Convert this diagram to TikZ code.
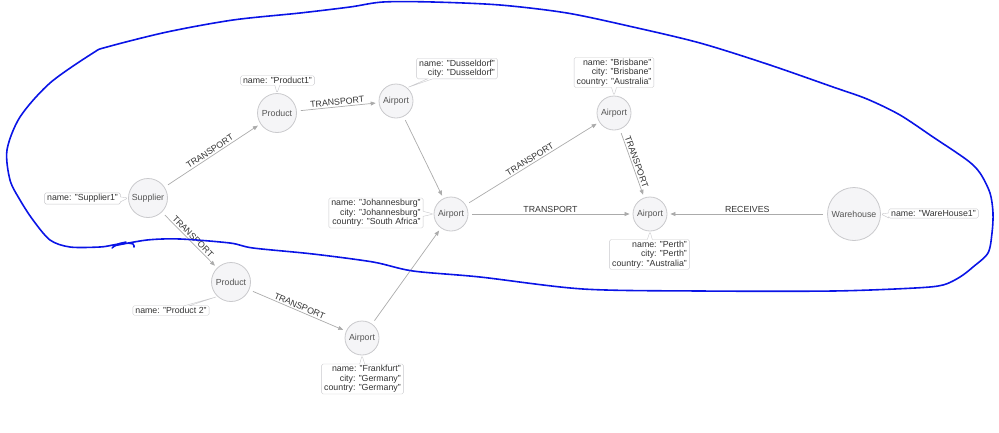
\documentclass[tikz,border=0pt]{standalone}
\usepackage{fontspec}
\setmainfont{Liberation Sans}
\usetikzlibrary{arrows.meta,shapes.callouts}
\definecolor{nodefill}{HTML}{F5F5F7}
\definecolor{nodeline}{HTML}{C9C9CC}
\definecolor{edgeline}{HTML}{ABABAB}
\definecolor{nodetext}{HTML}{555555}
\definecolor{labeltext}{HTML}{333333}
\definecolor{penblue}{HTML}{0A14E6}

\begin{document}
\begin{tikzpicture}[
    x=1pt, y=-1pt,
    entity/.style={
        circle,
        draw=nodeline,
        fill=nodefill,
        line width=0.8pt,
        inner sep=0pt,
        text=nodetext,
        font=\fontsize{8.8}{10}\selectfont
    },
    airport/.style={entity, minimum size=34pt},
    item/.style={entity, minimum size=39pt},
    props/.style={
        rectangle callout,
        draw=nodeline,
        fill=white,
        rounded corners=1.5pt,
        callout pointer width=5pt,
        align=right,
        inner xsep=2.5pt,
        inner ysep=1.5pt,
        text=labeltext,
        font=\fontsize{8.8}{9.4}\selectfont
    },
    rel/.style={
        draw=edgeline,
        line width=0.7pt,
        -{Triangle[length=5pt,width=4pt]},
        shorten <=4pt,
        shorten >=3pt
    },
    tag/.style={
        above,
        sloped,
        inner sep=1.5pt,
        text=labeltext,
        font=\fontsize{8.8}{10}\selectfont
    }
]
    \useasboundingbox (0,0) rectangle (999,432);

    \node[item] (sup) at (148,198) {Supplier};
    \node[item] (prodA) at (277,113) {Product};
    \node[airport] (dus) at (396,101) {Airport};
    \node[airport] (jnb) at (451,214) {Airport};
    \node[airport] (bne) at (614,113) {Airport};
    \node[airport] (per) at (650,214) {Airport};
    \node[entity, minimum size=53pt] (wh) at (854,214) {Warehouse};
    \node[item] (prodB) at (231,282) {Product};
    \node[airport] (fra) at (362,338) {Airport};

    \node[props, callout absolute pointer={(sup.west)}] (supinfo) at (82.5,198.5)
        {name: "Supplier1"};
    \node[props, callout absolute pointer={(prodA.north)}] (prodAinfo) at (277.5,80.5)
        {name: "Product1"};
    \node[props, callout absolute pointer={(dus.50)}] (dusinfo) at (457,68.5)
        {name: "Dusseldorf"\\city: "Dusseldorf"};
    \node[props, callout absolute pointer={(jnb.west)}] (jnbinfo) at (376,213)
        {name: "Johannesburg"\\city: "Johannesburg"\\country: "South Africa"};
    \node[props, callout absolute pointer={(bne.north)}] (bneinfo) at (614,72.5)
        {name: "Brisbane"\\city: "Brisbane"\\country: "Australia"};
    \node[props, callout absolute pointer={(per.south)}] (perinfo) at (649.5,254.5)
        {name: "Perth"\\city: "Perth"\\country: "Australia"};
    \node[props, callout absolute pointer={(wh.east)}] (whinfo) at (933.5,213.5)
        {name: "WareHouse1"};
    \node[props, callout absolute pointer={(prodB.227)}] (prodBinfo) at (171,310.5)
        {name: "Product 2"};
    \node[props, callout absolute pointer={(fra.south)}] (frainfo) at (362.5,379)
        {name: "Frankfurt"\\city: "Germany"\\country: "Germany"};

    \draw[rel] (sup) -- node[tag] {TRANSPORT} (prodA);
    \draw[rel] (prodA) -- node[tag] {TRANSPORT} (dus);
    \draw[rel] (dus) -- (jnb);
    \draw[rel] (sup) -- node[tag] {TRANSPORT} (prodB);
    \draw[rel] (prodB) -- node[tag] {TRANSPORT} (fra);
    \draw[rel] (fra) -- (jnb);
    \draw[rel] (jnb) -- node[tag] {TRANSPORT} (bne);
    \draw[rel] (bne) -- node[tag] {TRANSPORT} (per);
    \draw[rel] (jnb) -- node[tag] {TRANSPORT} (per);
    \draw[rel] (wh) -- node[tag] {RECEIVES} (per);

    \draw[penblue, line width=1.6pt, line cap=round, line join=round]
        plot[smooth, tension=0.5] coordinates {
            (113,246) (147,240) (180,239) (230,243) (253,248) (313,254)
            (373,262) (413,271) (480,277) (583,289) (700,291) (833,291)
            (915,288) (943,285) (960,277) (973,267) (988,253) (992,233)
            (993,213) (990,193) (980,173) (967,160) (933,137) (900,115)
            (867,99) (833,87) (767,64) (700,43) (633,27) (567,13)
            (500,5) (433,2) (383,2) (350,7) (300,13)
            (233,20) (167,32) (107,47) (93,53) (50,83) (20,117) (7,150)
            (10,180) (20,200) (33,220) (50,240) (70,247) (100,247)
            (113,245) (125,243) (133,244) (134,247)};
    \draw[penblue, line width=1.4pt, line cap=round]
        plot[smooth, tension=0.5] coordinates {(112,248) (118,244) (126,242)};
\end{tikzpicture}
\end{document}
